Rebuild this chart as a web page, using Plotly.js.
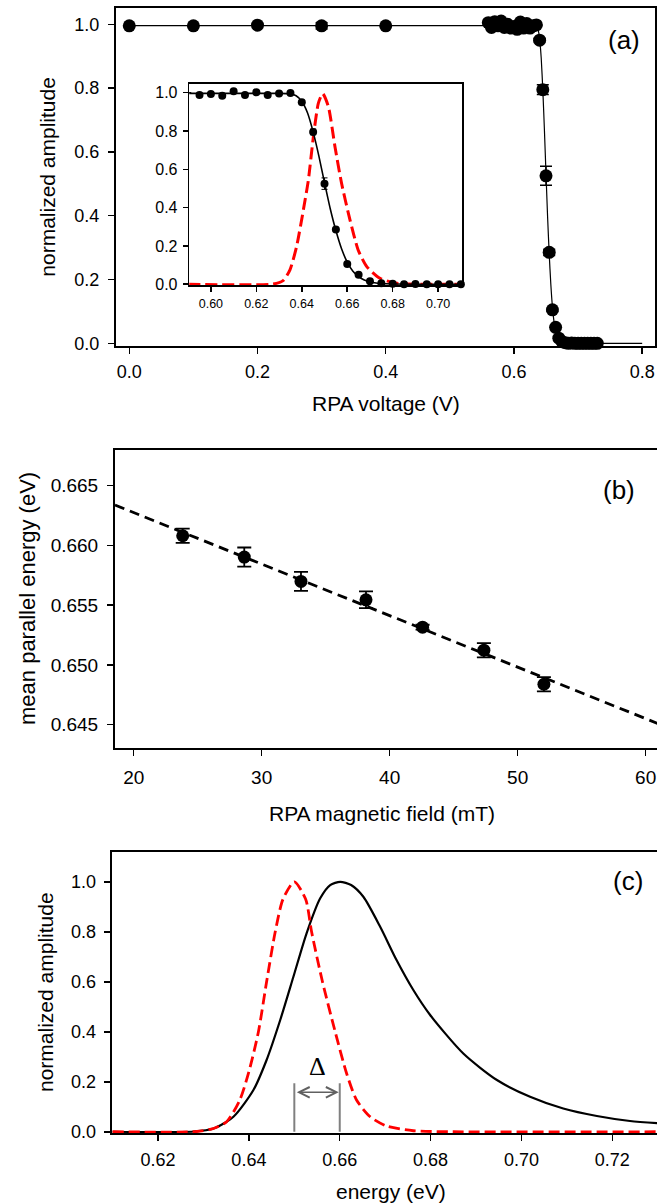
<!DOCTYPE html>
<html>
<head>
<meta charset="utf-8">
<script src="https://cdn.plot.ly/plotly-3.0.1.min.js"></script>
<style>
html,body{margin:0;padding:0;background:#fff;overflow:hidden;width:657px;height:1204px;}
#chart{width:665px;height:1204px;}
</style>
</head>
<body>
<div id="chart"></div>
<script>
// ---------- DATA ----------
// (a) retarding potential analyser scan
const rpaVoltage = [0, 0.1, 0.2, 0.3, 0.4,
  0.56, 0.565, 0.57, 0.575, 0.58, 0.585,
  0.59, 0.595, 0.60, 0.605, 0.61, 0.615, 0.62, 0.625, 0.63, 0.635,
  0.64, 0.645, 0.65, 0.655, 0.66, 0.665, 0.67, 0.675, 0.68, 0.685,
  0.69, 0.695, 0.70, 0.705, 0.71, 0.715, 0.72, 0.725, 0.73];
const rpaAmplitude = [0.995, 0.995, 0.997, 0.995, 0.995,
  1.005, 0.990, 1.008, 0.995, 1.010, 0.990,
  1.000, 0.988, 0.993, 0.984, 1.007, 0.988, 1.002, 0.988, 0.995, 0.998,
  0.950, 0.795, 0.525, 0.285, 0.105, 0.050, 0.016, 0.005, 0.002, 0.000,
  0.001, 0.000, 0.000, 0.000, 0.000, 0.000, 0.000, 0.000, 0.000];
const rpaError = [0, 0, 0, 0.01, 0,
  0, 0, 0, 0, 0, 0,
  0, 0, 0, 0, 0, 0, 0, 0, 0, 0,
  0.005, 0.015, 0.03, 0.01, 0.005, 0, 0, 0, 0, 0,
  0, 0, 0, 0, 0, 0, 0, 0, 0];
// fitted curve (a)
const fitVoltage = [0, 0.2, 0.4, 0.6, 0.63, 0.635, 0.6375, 0.64, 0.6425, 0.645, 0.6475, 0.65,
  0.6525, 0.655, 0.6575, 0.66, 0.6625, 0.665, 0.6675, 0.67, 0.675, 0.68, 0.70, 0.80];
const fitAmplitude = [0.996, 0.996, 0.996, 0.996, 0.996, 0.993, 0.984, 0.955, 0.895, 0.795, 0.67, 0.53,
  0.395, 0.28, 0.185, 0.115, 0.068, 0.040, 0.022, 0.012, 0.004, 0.001, 0.0, 0.0];
// derived energy distribution (inset, red dashed)
const insetDistX = [0.59, 0.6274, 0.6318, 0.6348, 0.6377, 0.6407, 0.6429, 0.6451, 0.6473, 0.6492,
  0.6517, 0.6546, 0.6575, 0.6612, 0.6648, 0.6686, 0.6744, 0.6818, 0.71];
const insetDistY = [0, 0.001, 0.019, 0.075, 0.196, 0.388, 0.544, 0.77, 0.945, 0.995,
  0.927, 0.718, 0.527, 0.336, 0.179, 0.092, 0.031, 0.005, 0];

// (b) mean parallel energy vs magnetic field
const magField = [23.83, 28.64, 33.07, 38.15, 42.57, 47.36, 52.05];
const meanEnergy = [0.66081, 0.65903, 0.65699, 0.65545, 0.65316, 0.65123, 0.64838];
const meanEnergyErr = [0.0006, 0.0008, 0.0008, 0.0007, 0.0002, 0.0006, 0.0006];
const fitField = [18.54, 61.12];
const fitEnergy = [0.66338, 0.64502];

// (c) energy distributions
const redEnergy = [0.61, 0.6285, 0.6322, 0.6351, 0.638, 0.640, 0.6421, 0.6439, 0.6458, 0.6475, 0.65,
  0.6525, 0.6538, 0.6562, 0.659, 0.6615, 0.6637, 0.6667, 0.6703, 0.6762, 0.685, 0.7305];
const redAmp = [0, 0.001, 0.013, 0.04, 0.127, 0.24, 0.4, 0.6, 0.8, 0.93, 1.0,
  0.93, 0.8, 0.6, 0.4, 0.234, 0.127, 0.06, 0.023, 0.004, 0.0, 0.0];
const blackEnergy = [0.61, 0.6278, 0.6322, 0.6366, 0.641, 0.6439, 0.6469, 0.6498, 0.6527, 0.6557, 0.6579,
  0.6601, 0.6625, 0.6652, 0.6689, 0.6725, 0.6762, 0.6799, 0.6872, 0.6946, 0.7019, 0.7092, 0.7166, 0.7239, 0.7305];
const blackAmp = [0, 0.001, 0.013, 0.06, 0.167, 0.287, 0.447, 0.62, 0.794, 0.934, 0.987,
  1.0, 0.987, 0.94, 0.82, 0.687, 0.567, 0.467, 0.313, 0.207, 0.14, 0.093, 0.063, 0.043, 0.034];
const deltaFrom = 0.65, deltaTo = 0.66, deltaBarTop = 0.194, deltaArrowY = 0.158, deltaLabelY = 0.26;

// tick labels
const aXTicks = [0, 0.2, 0.4, 0.6, 0.8];
const ampTicks = [0, 0.2, 0.4, 0.6, 0.8, 1.0];
const insetXTicks = [0.60, 0.62, 0.64, 0.66, 0.68, 0.70];
const bXTicks = [20, 30, 40, 50, 60];
const bYTicks = [0.645, 0.650, 0.655, 0.660, 0.665];
const cXTicks = [0.62, 0.64, 0.66, 0.68, 0.70, 0.72];

// ---------- LAYOUT HELPERS ----------
const W = 665, H = 1204;
const fx = p => p / W;
const fy = p => 1 - p / H;
const FONT = 'Arial, "Liberation Sans", sans-serif';

const inIdx = rpaVoltage.map((v, i) => i).filter(i => rpaVoltage[i] >= 0.589 && rpaVoltage[i] <= 0.711);

const traces = [
  {x: fitVoltage, y: fitAmplitude, xaxis: 'x', yaxis: 'y', mode: 'lines',
   line: {color: '#000', width: 1.2, shape: 'spline', smoothing: 0.6}, hoverinfo: 'skip'},
  {x: rpaVoltage, y: rpaAmplitude, xaxis: 'x', yaxis: 'y', mode: 'markers',
   marker: {color: '#000', size: 13},
   error_y: {type: 'data', array: rpaError, visible: true, color: '#000', thickness: 1.5, width: 6},
   cliponaxis: false},
  {x: insetDistX, y: insetDistY, xaxis: 'x2', yaxis: 'y2', mode: 'lines',
   line: {color: '#ff0000', width: 3, dash: '12px,5px', shape: 'spline', smoothing: 0.6}},
  {x: fitVoltage, y: fitAmplitude, xaxis: 'x2', yaxis: 'y2', mode: 'lines',
   line: {color: '#000', width: 1.6, shape: 'spline', smoothing: 0.6}},
  {x: inIdx.map(i => rpaVoltage[i]), y: inIdx.map(i => rpaAmplitude[i]), xaxis: 'x2', yaxis: 'y2', mode: 'markers',
   marker: {color: '#000', size: 8},
   error_y: {type: 'data', array: inIdx.map(i => rpaError[i]), visible: true, color: '#000', thickness: 1, width: 3},
   cliponaxis: false},
  {x: fitField, y: fitEnergy, xaxis: 'x3', yaxis: 'y3', mode: 'lines',
   line: {color: '#000', width: 2.8, dash: '10px,6px'}},
  {x: magField, y: meanEnergy, xaxis: 'x3', yaxis: 'y3', mode: 'markers',
   marker: {color: '#000', size: 13},
   error_y: {type: 'data', array: meanEnergyErr, visible: true, color: '#000', thickness: 1.8, width: 7}},
  {x: blackEnergy, y: blackAmp, xaxis: 'x4', yaxis: 'y4', mode: 'lines',
   line: {color: '#000', width: 2.2, shape: 'spline', smoothing: 0.7}},
  {x: redEnergy, y: redAmp, xaxis: 'x4', yaxis: 'y4', mode: 'lines',
   line: {color: '#ff0000', width: 2.8, dash: '11px,5px', shape: 'spline', smoothing: 0.7}}
];

function ax(extra) {
  return Object.assign({
    showline: true, linecolor: '#000', linewidth: 2, mirror: true,
    ticks: 'outside', ticklen: 6, tickwidth: 1.5, tickcolor: '#000',
    showgrid: false, zeroline: false, tickmode: 'array',
    tickfont: {family: FONT, size: 18, color: '#000'}
  }, extra);
}

function label(x, y, text, size, angle) {
  return {xref: 'paper', yref: 'paper', x: fx(x), y: fy(y), text: text, showarrow: false,
    xanchor: 'center', yanchor: 'middle', textangle: angle || 0,
    font: {family: FONT, size: size, color: '#000'}};
}

const layout = {
  width: W, height: H, margin: {l: 0, r: 0, t: 0, b: 0},
  paper_bgcolor: '#fff', plot_bgcolor: 'rgba(0,0,0,0)', showlegend: false,
  xaxis: ax({domain: [fx(116), fx(655)], range: [-0.0207, 0.82], anchor: 'y',
    tickvals: aXTicks, tickformat: '.1f', ticklabelstandoff: 2}),
  yaxis: ax({domain: [fy(346), fy(8.3)], range: [-0.0085, 1.05], anchor: 'x',
    tickvals: ampTicks, tickformat: '.1f', ticklabelstandoff: 5}),
  xaxis2: ax({domain: [fx(189.3), fx(462)], range: [0.5905, 0.7105], anchor: 'y2',
    tickvals: insetXTicks, tickformat: '.2f', ticklen: 5, ticklabelstandoff: 1,
    tickfont: {family: FONT, size: 12.5, color: '#000'}, linewidth: 1.6}),
  yaxis2: ax({domain: [fy(285), fy(84)], range: [-0.004, 1.045], anchor: 'x2',
    tickvals: ampTicks, tickformat: '.1f', ticklen: 5, ticklabelstandoff: 2,
    tickfont: {family: FONT, size: 16, color: '#000'}, linewidth: 1.6}),
  xaxis3: ax({domain: [fx(115), fx(660)], range: [18.54, 61.12], anchor: 'y3',
    tickvals: bXTicks, tickformat: 'd', ticklabelstandoff: 5,
    tickfont: {family: FONT, size: 19, color: '#000'}}),
  yaxis3: ax({domain: [fy(748.3), fy(450)], range: [0.64302, 0.66799], anchor: 'x3',
    tickvals: bYTicks, tickformat: '.3f', ticklabelstandoff: 5,
    tickfont: {family: FONT, size: 19, color: '#000'}}),
  xaxis4: ax({domain: [fx(111.7), fx(660)], range: [0.6098, 0.7305], anchor: 'y4',
    tickvals: cXTicks, tickformat: '.2f', ticklabelstandoff: 3}),
  yaxis4: ax({domain: [fy(1133), fy(852.3)], range: [-0.005, 1.118], anchor: 'x4',
    tickvals: ampTicks, tickformat: '.1f', ticklabelstandoff: 4}),
  shapes: [
    {type: 'line', xref: 'x4', yref: 'y4', x0: deltaFrom, x1: deltaFrom, y0: 0, y1: deltaBarTop,
     line: {color: '#808080', width: 2}},
    {type: 'line', xref: 'x4', yref: 'y4', x0: deltaTo, x1: deltaTo, y0: 0, y1: deltaBarTop,
     line: {color: '#808080', width: 2}}
  ],
  annotations: [
    label(624, 40, '(a)', 26),
    label(619, 490, '(b)', 26),
    label(628, 881, '(c)', 26),
    label(46.7, 177, 'normalized amplitude', 21, -90),
    label(386, 403, 'RPA voltage (V)', 21),
    label(27, 599, 'mean parallel energy (eV)', 22, -90),
    label(382, 813, 'RPA magnetic field (mT)', 21),
    label(45, 992, 'normalized amplitude', 21, -90),
    label(391, 1191, 'energy (eV)', 21),
    {xref: 'x4', yref: 'y4', axref: 'x4', ayref: 'y4', x: deltaTo, y: deltaArrowY, ax: deltaFrom, ay: deltaArrowY,
     text: '', showarrow: true, arrowside: 'end+start', arrowhead: 5, arrowsize: 1.3, arrowwidth: 1.6,
     arrowcolor: '#606060', standoff: 1, startstandoff: 1},
    {xref: 'x4', yref: 'y4', x: (deltaFrom + deltaTo) / 2, y: deltaLabelY, text: 'Δ', showarrow: false,
     xanchor: 'center', yanchor: 'middle',
     font: {family: '"Times New Roman", "Liberation Serif", serif', size: 26, color: '#000'}}
  ]
};

Plotly.newPlot('chart', traces, layout, {staticPlot: true, displayModeBar: false});
</script>
</body>
</html>
